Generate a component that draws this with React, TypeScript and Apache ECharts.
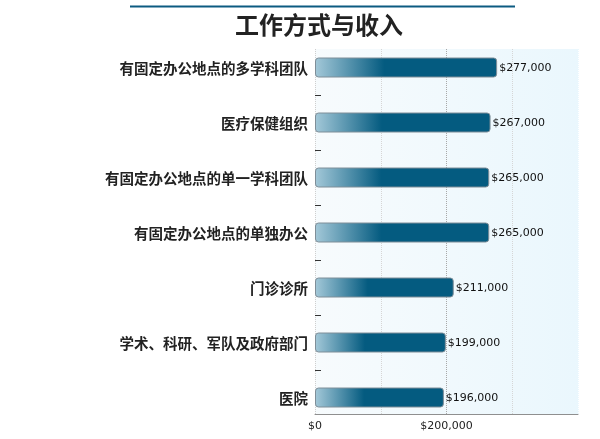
import React, { useEffect, useRef } from "react";
import * as echarts from "echarts";

const categories = [
  "有固定办公地点的多学科团队",
  "医疗保健组织",
  "有固定办公地点的单一学科团队",
  "有固定办公地点的单独办公",
  "门诊诊所",
  "学术、科研、军队及政府部门",
  "医院",
];
const incomes = [277000, 267000, 265000, 265000, 211000, 199000, 196000];
const xTickLabels = [0, 200000];
const titleText = "工作方式与收入";

const money = (v: number) => "$" + v.toLocaleString("en-US");

const App: React.FC = () => {
  const chartRef = useRef<HTMLDivElement>(null);

  useEffect(() => {
    if (!chartRef.current) return;
    const chart = echarts.init(chartRef.current, null, { renderer: "svg" });

    const option = {
      animation: false,
      grid: [
        // bars + category labels
        { left: 315, right: 22, top: 40, bottom: 14 },
        // shaded plot background + x axis
        {
          left: 315,
          right: 22,
          top: 49,
          bottom: 25,
          show: true,
          borderWidth: 0,
          backgroundColor: new echarts.graphic.LinearGradient(0, 0, 1, 0, [
            { offset: 0, color: "#f7fbfd" },
            { offset: 1, color: "#eaf7fd" },
          ]),
        },
      ],
      xAxis: [
        { type: "value", gridIndex: 0, min: 0, max: 400000, show: false },
        {
          type: "value",
          gridIndex: 1,
          min: 0,
          max: 400000,
          interval: 100000,
          axisLine: { show: true, lineStyle: { color: "#8f8f8f", width: 1 } },
          axisTick: { show: false },
          splitLine: {
            show: true,
            lineStyle: {
              type: "dotted",
              color: ["#cfcfcf", "#d6d6d6", "#a8a8a8", "#d6d6d6", "#eaf7fd"],
            },
          },
          axisLabel: {
            showMaxLabel: false,
            fontSize: 11,
            color: "#222",
            fontFamily: "DejaVu Sans",
            margin: 6,
            formatter: (v: number) => (xTickLabels.includes(v) ? money(v) : ""),
          },
        },
      ],
      yAxis: [
        {
          type: "category",
          gridIndex: 0,
          inverse: true,
          data: categories,
          axisLine: { show: false },
          axisTick: { show: false },
          axisLabel: {
            fontSize: 14.5,
            fontWeight: "bold",
            color: "#222",
            fontFamily: "Noto Sans CJK SC",
            margin: 7,
          },
        },
        {
          type: "value",
          gridIndex: 0,
          min: 0,
          max: categories.length,
          position: "left",
          axisLine: { show: false },
          axisLabel: { show: false },
          splitLine: { show: false },
          axisTick: {
            show: true,
            inside: true,
            length: 6,
            lineStyle: { color: "#333" },
            customValues: categories.slice(1).map((_, i) => i + 1),
          },
        },
        { type: "value", gridIndex: 1, show: false },
      ],
      series: [
        {
          type: "bar",
          xAxisIndex: 0,
          yAxisIndex: 0,
          data: incomes,
          barWidth: 20,
          itemStyle: {
            color: new echarts.graphic.LinearGradient(0, 0, 1, 0, [
              { offset: 0, color: "#a3c8d8" },
              { offset: 0.38, color: "#045b80" },
              { offset: 1, color: "#045b80" },
            ]),
            borderColor: "#7f8e98",
            borderWidth: 1,
            borderRadius: 3,
          },
          label: {
            show: true,
            position: "right",
            distance: 2,
            fontSize: 11,
            color: "#111",
            fontFamily: "DejaVu Sans",
            formatter: (p: any) => money(p.value),
          },
        },
      ],
      graphic: [
        {
          type: "line",
          shape: { x1: 130, y1: 6.5, x2: 515, y2: 6.5 },
          style: { stroke: "#0c5b81", lineWidth: 2 },
        },
        {
          type: "text",
          x: 319,
          y: 23,
          style: {
            text: titleText,
            fontSize: 24,
            fontWeight: "bold",
            fontFamily: "Noto Sans CJK SC",
            fill: "#222",
            textAlign: "center",
            textVerticalAlign: "middle",
          },
        },
      ],
    };

    chart.setOption(option);
    return () => chart.dispose();
  }, []);

  return (
    <div
      ref={chartRef}
      style={{ position: "fixed", left: 0, top: 0, width: 600, height: 439 }}
    />
  );
};

export default App;
